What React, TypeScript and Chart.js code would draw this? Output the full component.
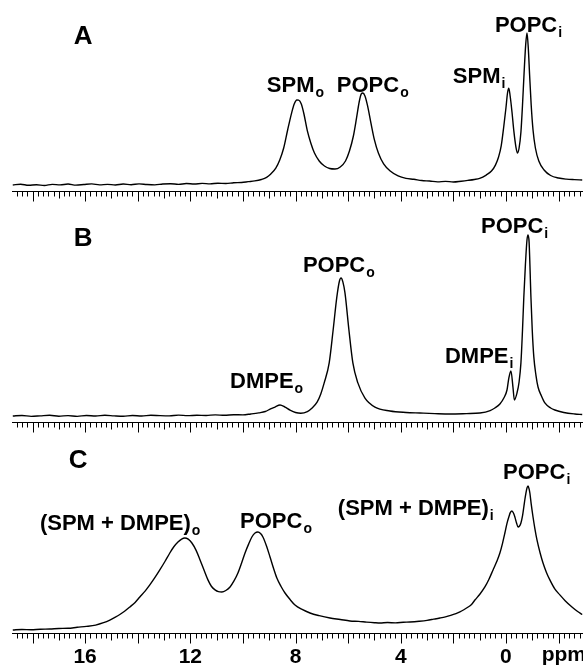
import React, { useEffect, useRef } from "react";
import { Chart, registerables } from "chart.js";

Chart.register(...registerables);

// ---- axis (chemical shift, ppm) ----
const X_MIN = -2.93;
const X_MAX = 18.78;
const tickLabels = [16, 12, 8, 4, 0];
const axisUnit = "ppm";

// ---- panel A ----
const shiftA = [
  18.75, 18.45, 18.15, 17.85, 17.55, 17.25, 16.95, 16.65, 16.35, 16.05,
  15.75, 15.45, 15.15, 14.85, 14.55, 14.25, 13.95, 13.65, 13.35, 13.05,
  12.75, 12.45, 12.15, 11.85, 11.55, 11.25, 10.95, 10.65, 10.35, 10.05,
  9.8, 9.55, 9.3, 9.1, 8.95, 8.75, 8.6, 8.45, 8.3, 8.15,
  8.05, 7.95, 7.88, 7.78, 7.68, 7.55, 7.42, 7.28, 7.1, 6.9,
  6.7, 6.5, 6.3, 6.1, 5.95, 5.8, 5.68, 5.58, 5.5, 5.44,
  5.36, 5.26, 5.14, 5.0, 4.85, 4.65, 4.4, 4.1, 3.8, 3.5,
  3.2, 2.9, 2.6, 2.3, 2.0, 1.7, 1.45, 1.2, 1.0, 0.75,
  0.55, 0.4, 0.28, 0.18, 0.08, 0.0, -0.06, -0.11, -0.16, -0.23,
  -0.3, -0.38, -0.44, -0.5, -0.57, -0.63, -0.69, -0.75, -0.8, -0.85,
  -0.9, -0.96, -1.03, -1.12, -1.25, -1.45, -1.7, -2.0, -2.3, -2.6,
  -2.9,
];
const intensityA = [
  3.8, 4.3, 3.6, 4.0, 3.5, 4.2, 3.9, 4.4, 3.7, 4.1,
  4.5, 3.9, 4.2, 3.8, 4.4, 4.0, 4.5, 4.1, 3.9, 4.4,
  4.6, 4.2, 4.7, 4.4, 4.8, 4.5, 4.9, 4.7, 5.2, 5.4,
  5.9, 6.4, 7.3, 8.6, 10.6, 14.5, 19.6, 27.2, 38.6, 49.3,
  55.0, 57.6, 57.5, 55.0, 48.7, 38.0, 30.4, 24.0, 19.0, 15.8,
  14.2, 13.9, 15.2, 19.0, 25.3, 34.8, 46.2, 56.3, 61.4, 62.0,
  60.1, 53.8, 43.6, 32.3, 24.0, 17.1, 12.6, 9.5, 8.0, 7.4,
  6.6, 6.3, 5.8, 6.1, 5.7, 6.2, 6.7, 7.3, 8.0, 10.1,
  12.6, 16.4, 21.5, 28.5, 41.1, 52.5, 62.0, 65.1, 60.1, 50.0,
  38.0, 27.8, 24.0, 27.2, 37.3, 54.4, 74.6, 92.3, 100, 90.4,
  73.4, 54.4, 38.6, 27.2, 19.0, 13.3, 9.8, 8.2, 7.5, 7.2,
  7.0,
];
const labelTextA = ["SPM", "POPC", "SPM", "POPC"];
const labelSubA = ["o", "o", "i", "i"];
const labelPpmA = [9.09, 6.43, 2.02, 0.42];
const labelLevelA = [62.6, 62.6, 68.3, 100.6];

// ---- panel B ----
const shiftB = [
  18.75, 18.4, 18.05, 17.7, 17.35, 17.0, 16.65, 16.3, 15.95, 15.6,
  15.25, 14.9, 14.55, 14.2, 13.85, 13.5, 13.15, 12.8, 12.45, 12.1,
  11.75, 11.4, 11.05, 10.7, 10.35, 10.0, 9.7, 9.4, 9.15, 8.95,
  8.78, 8.59, 8.4, 8.21, 8.0, 7.8, 7.55, 7.38, 7.18, 7.04,
  6.91, 6.72, 6.57, 6.43, 6.33, 6.27, 6.2, 6.12, 5.97, 5.82,
  5.63, 5.36, 4.98, 4.41, 3.8, 3.27, 2.7, 2.13, 1.5, 0.99,
  0.6, 0.42, 0.23, 0.08, -0.04, -0.11, -0.19, -0.27, -0.32, -0.42,
  -0.5, -0.57, -0.63, -0.68, -0.74, -0.8, -0.84, -0.88, -0.95, -1.0,
  -1.06, -1.14, -1.22, -1.35, -1.48, -1.7, -1.86, -2.2, -2.62, -2.9,
];
const intensityB = [
  3.2, 3.5, 3.0, 3.3, 3.6, 3.1, 3.4, 3.0, 3.5, 3.2,
  3.6, 3.3, 3.1, 3.5, 3.2, 3.6, 3.4, 3.3, 3.7, 3.4,
  3.6, 3.5, 3.8, 3.6, 3.9, 3.8, 4.3, 4.9, 5.6, 7.0,
  8.0, 9.1, 8.0, 6.4, 5.1, 4.7, 5.6, 7.4, 10.6, 15.0,
  20.9, 31.6, 49.2, 66.8, 75.4, 77.0, 74.9, 69.0, 49.2, 31.6,
  20.9, 12.8, 8.0, 5.9, 5.1, 4.8, 4.5, 4.3, 4.5, 4.8,
  6.1, 7.5, 9.6, 12.8, 17.1, 23.5, 27.3, 18.2, 11.8, 15.5,
  21.4, 31.6, 49.2, 66.8, 84.0, 97.3, 100, 96.3, 66.8, 49.2,
  34.8, 25.1, 18.7, 13.9, 10.2, 7.5, 6.4, 5.1, 4.3, 4.0,
];
const labelTextB = ["DMPE", "POPC", "DMPE", "POPC"];
const labelSubB = ["o", "o", "i", "i"];
const labelPpmB = [10.49, 7.72, 2.32, 0.95];
const labelLevelB = [18.2, 80.2, 31.6, 101.1];

// ---- panel C ----
const shiftC = [
  18.75, 18.4, 18.05, 17.7, 17.34, 17.0, 16.65, 16.3, 15.95, 15.6,
  15.3, 15.06, 14.85, 14.68, 14.5, 14.3, 14.1, 13.92, 13.72, 13.54,
  13.35, 13.16, 12.96, 12.78, 12.62, 12.47, 12.33, 12.21, 12.08, 11.94,
  11.78, 11.63, 11.48, 11.33, 11.2, 11.06, 10.93, 10.8, 10.65, 10.49,
  10.34, 10.19, 10.05, 9.92, 9.78, 9.66, 9.54, 9.43, 9.33, 9.24,
  9.1, 8.97, 8.84, 8.71, 8.55, 8.4, 8.2, 8.02, 7.75, 7.45,
  7.1, 6.69, 6.3, 5.93, 5.6, 5.3, 5.0, 4.79, 4.5, 4.2,
  3.9, 3.65, 3.3, 3.0, 2.75, 2.51, 2.3, 2.1, 1.9, 1.75,
  1.6, 1.45, 1.3, 1.18, 1.0, 0.8, 0.65, 0.49, 0.35, 0.23,
  0.13, 0.04, -0.04, -0.11, -0.17, -0.23, -0.29, -0.34, -0.4, -0.46,
  -0.51, -0.57, -0.63, -0.68, -0.72, -0.76, -0.8, -0.84, -0.88, -0.91,
  -0.96, -1.03, -1.1, -1.18, -1.3, -1.41, -1.54, -1.67, -1.85, -2.05,
  -2.25, -2.51, -2.7, -2.9,
];
const intensityC = [
  2.0, 2.4, 2.2, 2.6, 2.7, 3.1, 3.2, 3.9, 4.5, 5.4,
  7.0, 8.8, 10.8, 12.6, 14.8, 17.7, 20.8, 24.5, 28.5, 32.7,
  37.6, 42.9, 48.8, 54.4, 58.8, 61.9, 63.9, 64.6, 63.8, 61.2,
  56.2, 49.7, 42.8, 36.1, 31.8, 29.3, 28.1, 27.9, 28.9, 31.3,
  35.4, 40.8, 47.6, 54.4, 60.6, 65.3, 68.0, 68.7, 67.6, 65.3,
  59.0, 51.7, 44.2, 37.4, 31.6, 27.2, 22.6, 19.0, 16.0, 13.6,
  11.8, 10.2, 9.2, 8.2, 7.9, 7.4, 7.0, 6.8, 7.1, 6.9,
  7.3, 7.5, 8.0, 8.6, 9.4, 10.2, 11.0, 12.0, 13.2, 14.3,
  15.8, 17.5, 19.6, 22.4, 26.2, 31.3, 36.4, 42.9, 48.6, 54.4,
  61.0, 68.0, 74.6, 78.9, 82.0, 83.0, 81.4, 78.9, 75.0, 72.1,
  72.6, 74.8, 79.6, 85.7, 90.8, 95.2, 98.6, 100, 98.0, 95.2,
  87.8, 78.9, 71.0, 63.3, 54.4, 47.6, 41.2, 36.1, 30.2, 25.9,
  22.0, 17.7, 15.0, 12.6,
];
const labelTextC = ["(SPM + DMPE)", "POPC", "(SPM + DMPE)", "POPC"];
const labelSubC = ["o", "o", "i", "i"];
const labelPpmC = [17.72, 10.11, 6.39, 0.11];
const labelLevelC = [70.1, 71.4, 80.3, 104.8];

// ---- panel letters ----
const panelLetters = ["A", "B", "C"];
const letterPpm = [16.08, 16.08, 16.27];
const letterLevel = [93.0, 94.1, 112.2];

const FONT = '"Liberation Sans", Arial, Helvetica, sans-serif';

type PanelSpec = {
  height: number;
  padTop: number;
  padBottom: number;
  shifts: number[];
  values: number[];
  texts: string[];
  subs: string[];
  labelPpm: number[];
  labelLevel: number[];
  letterIndex: number;
  showScale: boolean;
};

function makeOverlay(spec: PanelSpec) {
  return {
    id: "nmrOverlay",
    afterDraw(chart: any) {
      const { ctx, chartArea } = chart;
      const xs = chart.scales.x;
      const ys = chart.scales.y;
      const axisY = Math.round(chartArea.bottom) + 0.5;
      ctx.save();
      ctx.strokeStyle = "#000";
      ctx.lineWidth = 1;
      ctx.beginPath();
      ctx.moveTo(chartArea.left, axisY);
      ctx.lineTo(chartArea.right, axisY);
      ctx.stroke();
      const kMin = Math.ceil(X_MIN * 5);
      const kMax = Math.floor(X_MAX * 5);
      ctx.beginPath();
      for (let k = kMin; k <= kMax; k++) {
        const px = Math.round(xs.getPixelForValue(k / 5)) + 0.5;
        const len = k % 10 === 0 ? 10 : k % 5 === 0 ? 7 : 5;
        ctx.moveTo(px, axisY);
        ctx.lineTo(px, axisY + len);
      }
      ctx.stroke();

      ctx.fillStyle = "#000";
      ctx.textBaseline = "alphabetic";
      // peak labels
      for (let i = 0; i < spec.texts.length; i++) {
        const px = xs.getPixelForValue(spec.labelPpm[i]);
        const py = ys.getPixelForValue(spec.labelLevel[i]);
        ctx.textAlign = "left";
        ctx.font = `bold 22px ${FONT}`;
        ctx.fillText(spec.texts[i], px, py);
        const w = ctx.measureText(spec.texts[i]).width;
        ctx.font = `bold 14px ${FONT}`;
        ctx.fillText(spec.subs[i], px + w + 1, py + 5);
      }
      // panel letter
      const li = spec.letterIndex;
      ctx.textAlign = "center";
      ctx.font = `bold 26px ${FONT}`;
      ctx.fillText(
        panelLetters[li],
        xs.getPixelForValue(letterPpm[li]),
        ys.getPixelForValue(letterLevel[li])
      );
      // scale labels
      if (spec.showScale) {
        ctx.font = `bold 21px ${FONT}`;
        ctx.textAlign = "center";
        for (const v of tickLabels) {
          ctx.fillText(String(v), xs.getPixelForValue(v), axisY + 29);
        }
        ctx.textAlign = "right";
        ctx.fillText(axisUnit, chartArea.right + 3, axisY + 27.5);
      }
      ctx.restore();
    },
  };
}

function Panel(spec: PanelSpec) {
  const ref = useRef<HTMLCanvasElement | null>(null);
  useEffect(() => {
    if (!ref.current) return;
    const points = spec.shifts.map((s, i) => ({ x: s, y: spec.values[i] }));
    const chart = new Chart(ref.current, {
      type: "line",
      data: {
        datasets: [
          {
            data: points,
            borderColor: "#000",
            borderWidth: 1.4,
            pointRadius: 0,
            fill: false,
            cubicInterpolationMode: "monotone",
            clip: false,
          } as any,
        ],
      },
      options: {
        animation: false,
        responsive: false,
        maintainAspectRatio: false,
        events: [],
        layout: {
          padding: { left: 12, right: 0, top: spec.padTop, bottom: spec.padBottom },
        },
        scales: {
          x: { type: "linear", reverse: true, min: X_MIN, max: X_MAX, display: false },
          y: { type: "linear", min: 0, max: 105, display: false },
        },
        plugins: { legend: { display: false }, tooltip: { enabled: false } },
      },
      plugins: [makeOverlay(spec) as any],
    });
    return () => chart.destroy();
  }, []);
  return (
    <canvas
      ref={ref}
      width={583}
      height={spec.height}
      style={{ display: "block", width: 583, height: spec.height }}
    />
  );
}

export default function App() {
  return (
    <div
      style={{
        position: "absolute",
        left: 0,
        top: 0,
        width: 583,
        height: 665,
        background: "#fff",
        overflow: "hidden",
      }}
    >
      <Panel
        height={212}
        padTop={25}
        padBottom={21}
        shifts={shiftA}
        values={intensityA}
        texts={labelTextA}
        subs={labelSubA}
        labelPpm={labelPpmA}
        labelLevel={labelLevelA}
        letterIndex={0}
        showScale={false}
      />
      <Panel
        height={228}
        padTop={13.6}
        padBottom={18}
        shifts={shiftB}
        values={intensityB}
        texts={labelTextB}
        subs={labelSubB}
        labelPpm={labelPpmB}
        labelLevel={labelLevelB}
        letterIndex={1}
        showScale={false}
      />
      <Panel
        height={225}
        padTop={38.6}
        padBottom={32}
        shifts={shiftC}
        values={intensityC}
        texts={labelTextC}
        subs={labelSubC}
        labelPpm={labelPpmC}
        labelLevel={labelLevelC}
        letterIndex={2}
        showScale={true}
      />
    </div>
  );
}
